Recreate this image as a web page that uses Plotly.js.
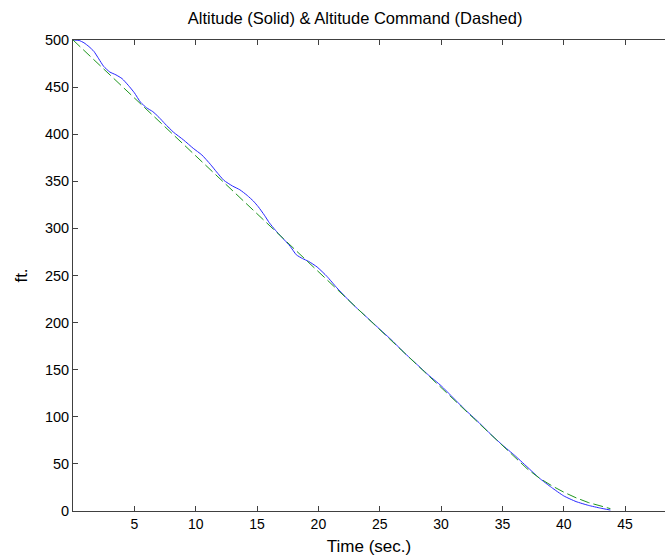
<!DOCTYPE html>
<html>
<head>
<meta charset="utf-8">
<script src="https://cdn.plot.ly/plotly-3.0.1.min.js"></script>
<style>html,body{margin:0;padding:0;background:#fff;}#chart{width:665px;height:559px;}</style>
</head>
<body>
<div id="chart"></div>
<script>
// Altitude (solid, blue)
const altTime = [0, 0.5, 0.9, 1.3, 1.7, 2.1, 2.5, 3.0, 3.5, 4.0, 4.5, 5.0, 5.5, 6.0, 6.5, 7.0, 7.5, 8.2, 9.0, 9.8, 10.5, 11.2, 11.7, 12.3, 13.0, 13.6, 14.2, 14.7, 15.1, 15.6, 16.0, 16.5, 17.0, 17.7, 18.2, 18.7, 19.2, 19.9, 20.7, 21.5, 22.3, 23, 24, 25, 26, 27, 28, 29, 30, 31, 32, 33, 34, 35, 36, 37, 38, 39, 40, 41, 42, 43, 43.8];
const altitude = [500, 499.5, 497, 493, 488, 480, 472, 466, 463, 459, 452, 444, 434, 428, 424, 418, 411, 402, 394, 385, 378, 368, 360, 351, 345, 341, 335, 329, 323, 314, 306, 298, 291, 281, 272, 268, 265, 259, 249, 237, 226, 217, 205, 193, 181, 168, 156, 144, 133, 120, 107, 95, 82, 70, 59, 47, 35, 25, 16, 10, 6, 3, 1];
// Altitude command (dashed, green)
const cmdTime = [0, 2, 4, 6, 8, 10, 12, 14, 16, 18, 20, 22, 24, 26, 28, 30, 32, 34, 36, 37, 38, 39, 40, 41, 42, 43, 43.8];
const command = [500, 475.4, 450.8, 426.2, 401.6, 377, 352.4, 327.8, 303.2, 278.6, 254, 229.4, 204.8, 180.2, 155.6, 131, 106.4, 81.8, 57.2, 45, 35, 27, 20, 14, 9, 5, 2.5];
const xTicks = [5, 10, 15, 20, 25, 30, 35, 40, 45];
const yTicks = [0, 50, 100, 150, 200, 250, 300, 350, 400, 450, 500];

const axisColor = '#404040';
const fontFam = '"Liberation Sans", Arial, sans-serif';

const traces = [
  {x: altTime, y: altitude, mode: 'lines', line: {color: 'rgb(40,40,255)', width: 1, shape: 'spline', smoothing: 0.5}, hoverinfo: 'skip'},
  {x: cmdTime, y: command, mode: 'lines', line: {color: 'rgb(30,150,30)', width: 1, dash: '10px,4px'}, hoverinfo: 'skip'}
];

const layout = {
  width: 665, height: 559,
  margin: {l: 73, r: 0, t: 40, b: 48, pad: 0},
  paper_bgcolor: '#fff', plot_bgcolor: '#fff',
  showlegend: false,
  font: {family: fontFam, size: 14, color: '#000'},
  title: {text: 'Altitude (Solid) & Altitude Command (Dashed)', xref: 'container', x: 0.534, xanchor: 'center', y: 0.968, yanchor: 'middle', font: {family: fontFam, size: 16.5, color: '#000'}},
  xaxis: {
    range: [0, 48.25], tickvals: xTicks, ticktext: xTicks.map(String),
    ticks: 'inside', ticklen: 5, tickcolor: axisColor, tickwidth: 1,
    showline: true, linecolor: axisColor, linewidth: 1, mirror: 'ticks',
    showgrid: false, zeroline: false,
    tickfont: {family: fontFam, size: 14, color: '#000'},
    title: {text: 'Time (sec.)', standoff: 9, font: {family: fontFam, size: 17, color: '#000'}}
  },
  yaxis: {
    range: [0, 500], tickvals: yTicks, ticktext: yTicks.map(String),
    ticks: 'inside', ticklen: 5, tickcolor: axisColor, tickwidth: 1,
    showline: true, linecolor: axisColor, linewidth: 1, mirror: false,
    showgrid: false, zeroline: false,
    tickfont: {family: fontFam, size: 14.5, color: '#000'},
    title: {text: 'ft.', standoff: 12, font: {family: fontFam, size: 17, color: '#000'}}
  }
};

Plotly.newPlot('chart', traces, layout, {displayModeBar: false, staticPlot: true});
</script>
</body>
</html>
